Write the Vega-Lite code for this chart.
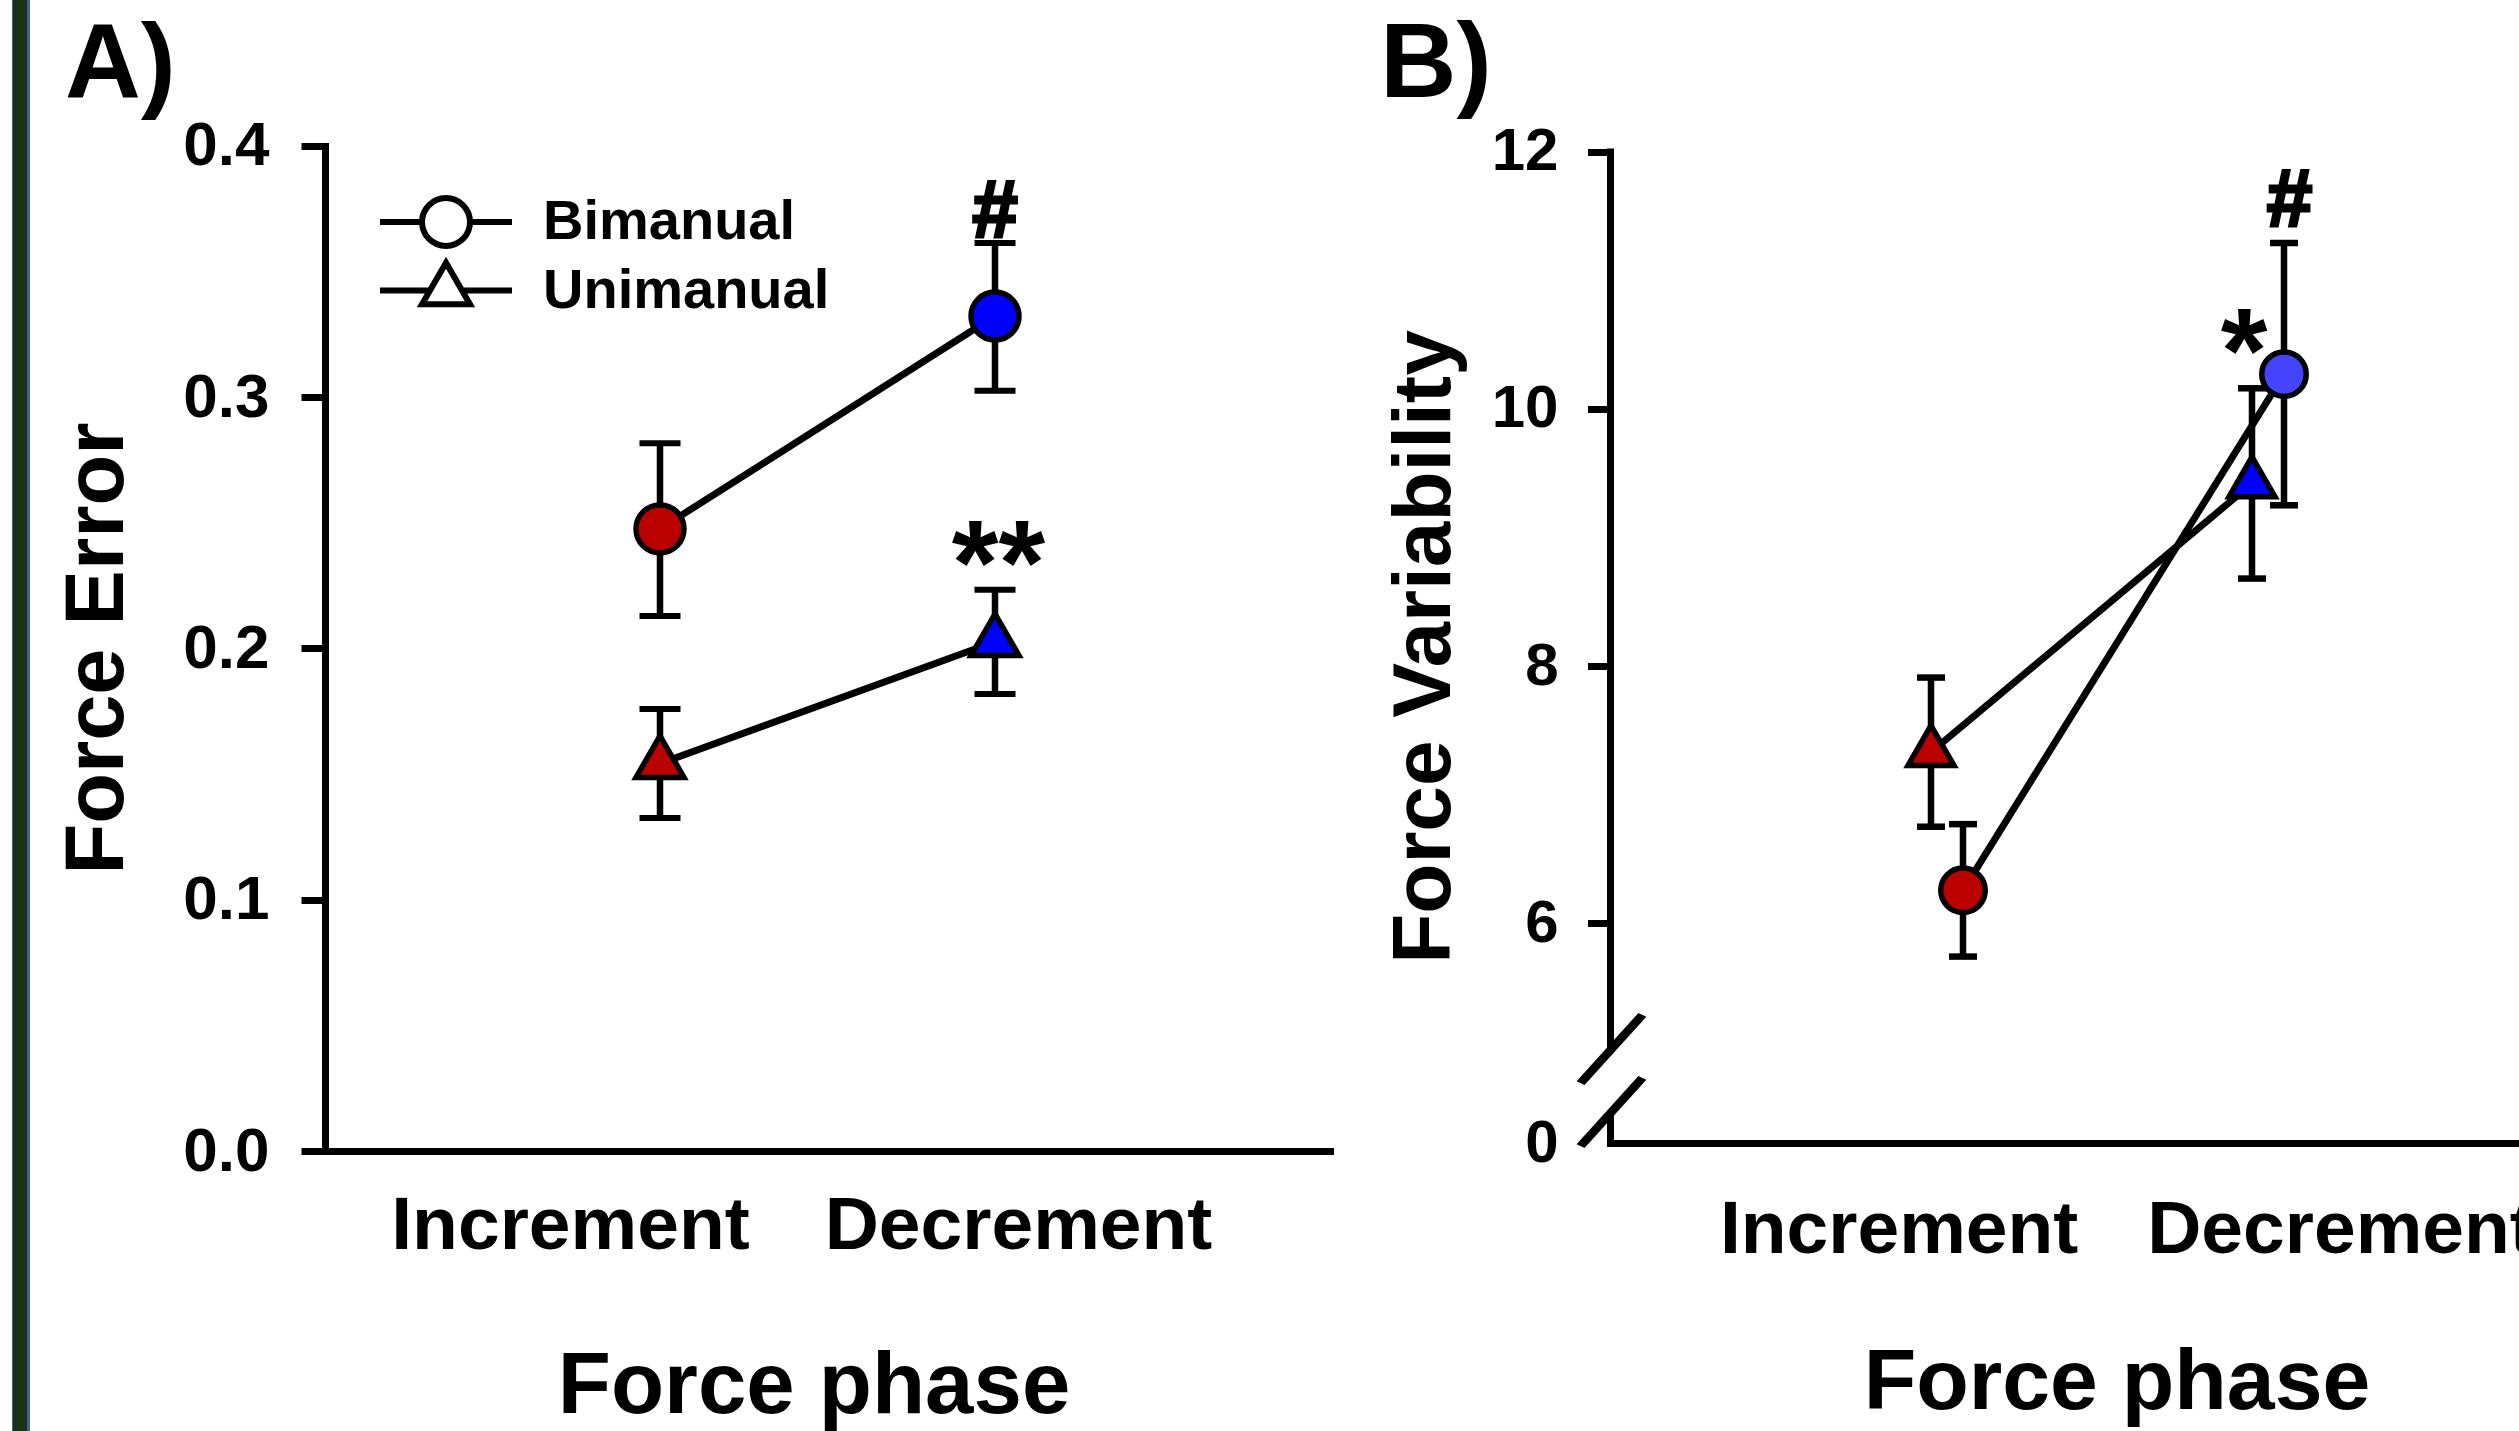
{
  "$schema": "https://vega.github.io/schema/vega-lite/v6.json",
  "usermeta": {"embedOptions": {"actions": false}},
  "autosize": {"type": "none"},
  "padding": {"left": 12, "top": 0, "right": 2507, "bottom": 1431},
  "background": "white",
  "config": {
    "font": "Liberation Sans",
    "view": {"stroke": null},
    "axis": {"grid": false, "domainColor": "black", "tickColor": "black", "labelColor": "black", "titleColor": "black", "labelFontWeight": "bold", "titleFontWeight": "bold", "labelLimit": 0, "labelOverlap": false, "labelFlush": false, "labelBound": false},
    "title": {"color": "black"},
    "text": {"color": "black"}
  },
  "datasets": {
    "a": [
      {"phase": "Increment", "hand": "Bimanual", "mean": 0.2476, "lower": 0.2129, "upper": 0.2817, "sig": ""},
      {"phase": "Decrement", "hand": "Bimanual", "mean": 0.3323, "lower": 0.3026, "upper": 0.3614, "sig": "#"},
      {"phase": "Increment", "hand": "Unimanual", "mean": 0.1542, "lower": 0.1325, "upper": 0.1759, "sig": ""},
      {"phase": "Decrement", "hand": "Unimanual", "mean": 0.2027, "lower": 0.1819, "upper": 0.2234, "sig": "**"}
    ],
    "b": [
      {"phase": "Increment", "hand": "Bimanual", "mean": 6.255, "lower": 5.74, "upper": 6.77, "sig": ""},
      {"phase": "Decrement", "hand": "Bimanual", "mean": 10.27, "lower": 9.25, "upper": 11.29, "sig": "#"},
      {"phase": "Increment", "hand": "Unimanual", "mean": 7.33, "lower": 6.75, "upper": 7.91, "sig": ""},
      {"phase": "Decrement", "hand": "Unimanual", "mean": 9.42, "lower": 8.68, "upper": 10.16, "sig": "*"}
    ]
  },
  "spacing": 280,
  "bounds": "flush",
  "resolve": {"scale": {"shape": "independent", "fill": "independent"}},
  "hconcat": [
    {
      "width": 33, "height": 1431,
      "data": {"values": [{}]},
      "mark": {"type": "rect", "strokeWidth": 0, "fill": {"gradient": "linear", "x1": 0, "y1": 0, "x2": 1, "y2": 0, "stops": [
        {"offset": 0, "color": "#3e5f9c"}, {"offset": 0.04, "color": "#3e5f9c"},
        {"offset": 0.04, "color": "#1c3313"}, {"offset": 0.46, "color": "#1c3313"},
        {"offset": 0.46, "color": "#3e5f9c"}, {"offset": 0.545, "color": "#3e5f9c"},
        {"offset": 0.545, "color": "#ffffff"}, {"offset": 1, "color": "#ffffff"}]}},
      "encoding": {}
    },
    {
      "width": 1005, "height": 1151,
      "data": {"name": "a"},
      "title": {"text": "A)", "anchor": "start", "frame": "group", "baseline": "alphabetic", "offset": 0, "dx": -260, "dy": 203, "fontSize": 105, "fontWeight": "bold", "color": "black"},
      "encoding": {
        "x": {"field": "phase", "type": "ordinal", "scale": {"type": "point", "domain": ["Increment", "Decrement"], "padding": 1},
          "axis": {"title": "Force phase", "titleFontSize": 87, "titleX": 488.5, "titleY": 261, "titleBaseline": "alphabetic", "titleAlign": "center",
            "labelFontSize": 75, "labelAngle": 0, "labelBaseline": "alphabetic", "labelAlign": "center", "labelPadding": 97,
            "labelOffset": {"condition": {"test": "datum.value === 'Increment'", "value": -90}, "value": 23},
            "ticks": false, "tickSize": 0, "domainWidth": 7, "domainCap": "square"}}
      },
      "resolve": {"scale": {"shape": "independent"}, "axis": {"y": "independent"}},
      "layer": [
        {"mark": {"type": "line", "color": "black", "strokeWidth": 7},
          "encoding": {"y": {"field": "mean", "type": "quantitative", "scale": {"domain": [0, 0.4581], "nice": false, "zero": false},
            "axis": {"title": "Force Error", "titleFontSize": 83, "titleAngle": -90, "titleX": -203, "titleY": 648, "titleBaseline": "alphabetic", "titleAlign": "center",
              "values": [0, 0.1, 0.2, 0.3, 0.4], "format": ".1f", "labelFontSize": 62, "labelPadding": 32, "labelBaseline": "middle", "labelAlign": "right",
              "tickSize": 24, "tickWidth": 7, "domainWidth": 7, "domainCap": "square", "domainDash": [1005, 800]}},
            "detail": {"field": "hand"}}},
        {"mark": {"type": "rule", "color": "black", "strokeWidth": 6.5},
          "encoding": {"y": {"field": "lower", "type": "quantitative", "scale": {"domain": [0, 0.4581], "nice": false, "zero": false}, "axis": null}, "y2": {"field": "upper"}}},
        {"transform": [{"fold": ["lower", "upper"], "as": ["bound", "val"]}],
          "mark": {"type": "tick", "orient": "horizontal", "color": "black", "size": 41, "thickness": 6, "opacity": 1},
          "encoding": {"y": {"field": "val", "type": "quantitative", "scale": {"domain": [0, 0.4581], "nice": false, "zero": false}, "axis": null}}},
        {"mark": {"type": "point", "opacity": 1, "filled": false, "color": "black", "strokeWidth": 6, "size": 1},
          "encoding": {"y": {"field": "mean", "type": "quantitative", "scale": {"domain": [0, 0.4581], "nice": false, "zero": false}, "axis": null},
            "shape": {"field": "hand", "type": "nominal",
              "scale": {"domain": ["Bimanual", "Unimanual"], "range": ["M-2.75,0L-1,0M1,0L2.75,0M1,0A1,1,0,1,1,-1,0A1,1,0,1,1,1,0Z", "M-2.75,0L-0.667,0M0.667,0L2.75,0M0,-1.1547L1,0.5774L-1,0.5774Z"]},
              "legend": {"orient": "none", "legendX": 93, "legendY": 194, "title": null, "direction": "vertical", "padding": 0,
                "symbolSize": 2304, "symbolStrokeWidth": 6, "symbolOpacity": 1,
                "labelFontSize": 56, "labelFontWeight": "bold", "labelColor": "black", "labelFont": "Liberation Sans", "labelOffset": 69, "labelLimit": 0, "rowPadding": -7.5, "labelBaseline": "middle"}}}},
        {"mark": {"type": "point", "filled": true, "opacity": 1, "stroke": "black", "strokeWidth": 5.5, "size": 2304},
          "encoding": {"y": {"field": "mean", "type": "quantitative", "scale": {"domain": [0, 0.4581], "nice": false, "zero": false}, "axis": null},
            "shape": {"field": "hand", "type": "nominal", "scale": {"domain": ["Bimanual", "Unimanual"], "range": ["circle", "M0,-1.1547L1,0.5774L-1,0.5774Z"]}, "legend": null},
            "fill": {"condition": {"test": "datum.phase === 'Decrement'", "value": "#0000ff"}, "value": "#bb0000"}}},
        {"transform": [{"filter": "datum.sig === '#'"}],
          "mark": {"type": "text", "fontSize": 82, "fontWeight": "bold", "baseline": "alphabetic", "align": "center", "dy": -6, "color": "black", "stroke": "black", "strokeWidth": 3},
          "encoding": {"y": {"field": "upper", "type": "quantitative", "scale": {"domain": [0, 0.4581], "nice": false, "zero": false}, "axis": null}, "text": {"field": "sig"}}},
        {"transform": [{"filter": "datum.sig === '**'"}],
          "mark": {"type": "text", "fontSize": 120, "fontWeight": "bold", "baseline": "alphabetic", "align": "center", "dy": 14, "dx": 3.5, "color": "black"},
          "encoding": {"y": {"field": "upper", "type": "quantitative", "scale": {"domain": [0, 0.4581], "nice": false, "zero": false}, "axis": null}, "text": {"field": "sig"}}}
      ]
    },
    {
      "width": 963, "height": 1143,
      "data": {"name": "b"},
      "title": {"text": "B)", "anchor": "start", "frame": "group", "baseline": "alphabetic", "offset": 0, "dx": -230, "dy": 203, "fontSize": 106, "fontWeight": "bold", "color": "black"},
      "encoding": {
        "x": {"field": "phase", "type": "ordinal", "scale": {"type": "point", "domain": ["Increment", "Decrement"], "padding": 1},
          "axis": {"title": "Force phase", "titleFontSize": 86, "titleX": 506.5, "titleY": 265, "titleBaseline": "alphabetic", "titleAlign": "center",
            "labelFontSize": 75, "labelAngle": 0, "labelBaseline": "alphabetic", "labelAlign": "center", "labelPadding": 109.3,
            "labelOffset": {"condition": {"test": "datum.value === 'Increment'", "value": -32.4}, "value": 88.5},
            "ticks": false, "tickSize": 0, "domainWidth": 7, "domainCap": "square"}}
      },
      "resolve": {"axis": {"y": "independent"}},
      "layer": [
        {"transform": [{"filter": "datum.hand === 'Unimanual'"}],
          "mark": {"type": "line", "color": "black", "strokeWidth": 7},
          "encoding": {"y": {"field": "mean", "type": "quantitative", "scale": {"domain": [4.29, 13.18], "nice": false, "zero": false},
            "axis": {"title": "Force Variability", "titleFontSize": 82, "titleAngle": -90, "titleX": -161, "titleY": 646.5, "titleBaseline": "alphabetic", "titleAlign": "center",
              "values": [4.29, 6, 8, 10, 12], "labelExpr": "datum.value < 5 ? '0' : format(datum.value, 'd')",
              "labelFontSize": 60, "labelPadding": 29.5, "labelBaseline": "middle", "labelAlign": "right",
              "tickSize": 22.5, "tickWidth": 7, "tickOpacity": {"condition": {"test": "datum.value < 5", "value": 0}, "value": 1},
              "domainWidth": 7, "domainCap": "butt", "domainDash": [30, 63, 902, 400]}}}},
        {"transform": [{"filter": "datum.hand === 'Bimanual'"}],
          "mark": {"type": "line", "color": "black", "strokeWidth": 7, "xOffset": 32},
          "encoding": {"y": {"field": "mean", "type": "quantitative", "scale": {"domain": [4.29, 13.18], "nice": false, "zero": false},
            "axis": {"orient": "left", "title": null, "values": [4.52, 5.01], "labelExpr": "'/'", "ticks": false, "tickSize": 0, "domain": false,
              "labelPadding": 0, "labelAlign": "center", "labelBaseline": "middle", "labelAngle": 25, "labelFont": "DejaVu Sans", "labelFontSize": 107, "labelFontWeight": "normal"}}}},
        {"transform": [{"filter": "datum.hand === 'Unimanual'"}],
          "mark": {"type": "rule", "color": "black", "strokeWidth": 6.5},
          "encoding": {"y": {"field": "lower", "type": "quantitative", "scale": {"domain": [4.29, 13.18], "nice": false, "zero": false}, "axis": null}, "y2": {"field": "upper"}}},
        {"transform": [{"filter": "datum.hand === 'Bimanual'"}],
          "mark": {"type": "rule", "color": "black", "strokeWidth": 6.5, "xOffset": 32},
          "encoding": {"y": {"field": "lower", "type": "quantitative", "scale": {"domain": [4.29, 13.18], "nice": false, "zero": false}, "axis": null}, "y2": {"field": "upper"}}},
        {"transform": [{"filter": "datum.hand === 'Unimanual'"}, {"fold": ["lower", "upper"], "as": ["bound", "val"]}],
          "mark": {"type": "tick", "orient": "horizontal", "color": "black", "size": 28, "thickness": 6.5, "opacity": 1},
          "encoding": {"y": {"field": "val", "type": "quantitative", "scale": {"domain": [4.29, 13.18], "nice": false, "zero": false}, "axis": null}}},
        {"transform": [{"filter": "datum.hand === 'Bimanual'"}, {"fold": ["lower", "upper"], "as": ["bound", "val"]}],
          "mark": {"type": "tick", "orient": "horizontal", "color": "black", "size": 28, "thickness": 6.5, "opacity": 1, "xOffset": 32},
          "encoding": {"y": {"field": "val", "type": "quantitative", "scale": {"domain": [4.29, 13.18], "nice": false, "zero": false}, "axis": null}}},
        {"transform": [{"filter": "datum.hand === 'Unimanual'"}],
          "mark": {"type": "point", "shape": "M0,-1.1547L1,0.5774L-1,0.5774Z", "filled": true, "opacity": 1, "stroke": "black", "strokeWidth": 5.5, "size": 2116},
          "encoding": {"y": {"field": "mean", "type": "quantitative", "scale": {"domain": [4.29, 13.18], "nice": false, "zero": false}, "axis": null},
            "fill": {"condition": {"test": "datum.phase === 'Decrement'", "value": "#0000ff"}, "value": "#bb0000"}}},
        {"transform": [{"filter": "datum.hand === 'Bimanual'"}],
          "mark": {"type": "point", "shape": "circle", "filled": true, "opacity": 1, "stroke": "black", "strokeWidth": 5.5, "size": 1980, "xOffset": 32},
          "encoding": {"y": {"field": "mean", "type": "quantitative", "scale": {"domain": [4.29, 13.18], "nice": false, "zero": false}, "axis": null},
            "fill": {"condition": {"test": "datum.phase === 'Decrement'", "value": "#4444ff"}, "value": "#bb0000"}}},
        {"transform": [{"filter": "datum.sig === '#'"}],
          "mark": {"type": "text", "fontSize": 82, "fontWeight": "bold", "baseline": "alphabetic", "align": "center", "dx": 37.5, "dy": -17, "color": "black", "stroke": "black", "strokeWidth": 3},
          "encoding": {"y": {"field": "upper", "type": "quantitative", "scale": {"domain": [4.29, 13.18], "nice": false, "zero": false}, "axis": null}, "text": {"field": "sig"}}},
        {"transform": [{"filter": "datum.sig === '*'"}],
          "mark": {"type": "text", "fontSize": 120, "fontWeight": "bold", "baseline": "alphabetic", "align": "center", "dx": -8, "dy": 4, "color": "black"},
          "encoding": {"y": {"field": "upper", "type": "quantitative", "scale": {"domain": [4.29, 13.18], "nice": false, "zero": false}, "axis": null}, "text": {"field": "sig"}}}
      ]
    }
  ]
}
